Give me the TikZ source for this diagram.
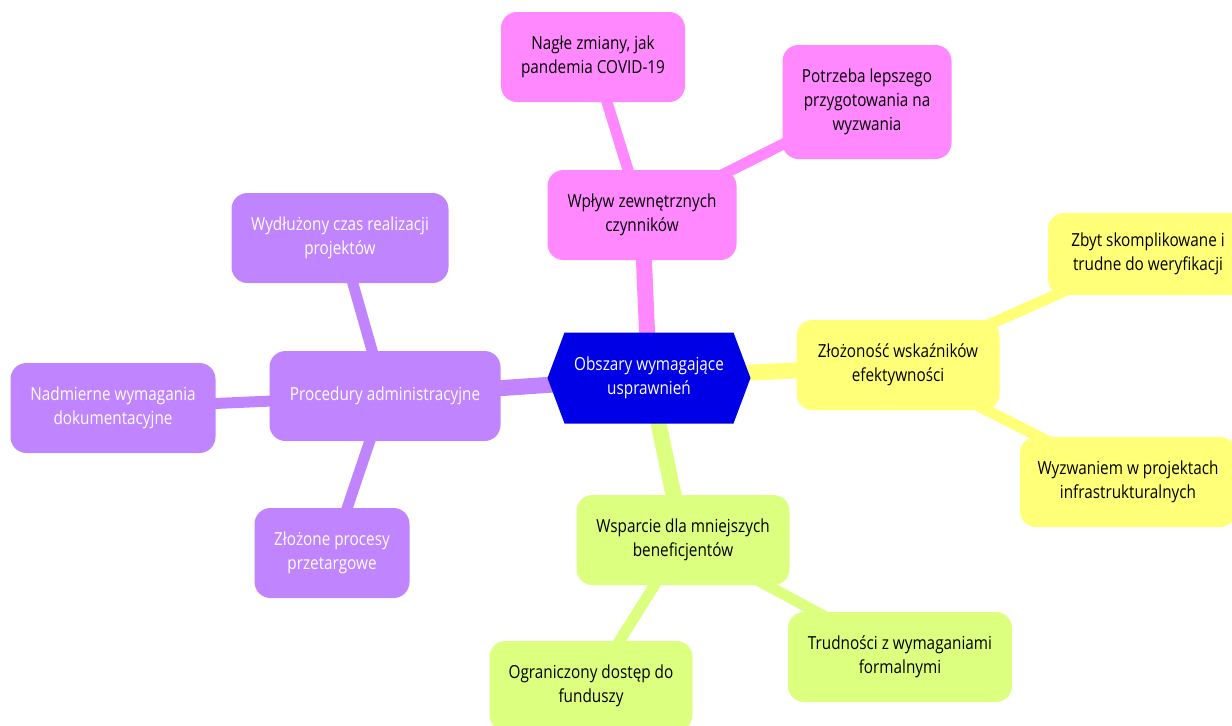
\documentclass[tikz,border=0pt]{standalone}
\usepackage{fontspec}
\setmainfont{Open Sans}[FakeStretch=0.85]
\usetikzlibrary{positioning,shapes.symbols,backgrounds}
\definecolor{rootblue}{HTML}{0000E6}
\definecolor{mmpurple}{HTML}{C184FF}
\definecolor{mmpink}{HTML}{FF88FF}
\definecolor{mmyellow}{HTML}{FFFF78}
\definecolor{mmgreen}{HTML}{DDFF80}

\begin{document}
\begin{tikzpicture}[
  x=0.5pt, y=-0.5pt,
  font=\fontsize{9}{12}\selectfont,
  rootnode/.style={signal, signal to=east and west, signal pointer angle=139,
    fill=rootblue, text=white, align=center, minimum width=101.5pt, minimum height=45.5pt, inner sep=0pt},
  topic/.style={rounded corners=8pt, align=center, inner sep=0pt, minimum height=45pt},
  branch/.style={line width=8pt},
  twig/.style={line width=5.5pt}
]
\useasboundingbox (0,0) rectangle (1232,725);

% centre
\node[rootnode] (root) at (649,378) {Obszary wymagające\\usprawnień};

% pink branch
\node[topic, fill=mmpink, minimum width=94.5pt] (zewn) at (642,215) {Wpływ zewnętrznych\\czynników};
\node[topic, fill=mmpink, minimum width=92pt] (covid) at (593,57) {Nagłe zmiany, jak\\pandemia COVID-19};
\node[topic, fill=mmpink, minimum width=84.5pt, minimum height=57pt] (przyg) at (867,102) {Potrzeba lepszego\\przygotowania na\\wyzwania};

% yellow branch
\node[topic, fill=mmyellow, minimum width=101.5pt] (wskaz) at (898,365) {Złożoność wskaźników\\efektywności};
\node[topic, fill=mmyellow, minimum width=100pt, minimum height=41pt] (weryf) at (1148,254) {Zbyt skomplikowane i\\trudne do weryfikacji};
\node[topic, fill=mmyellow, minimum width=108pt] (infra) at (1128,482) {Wyzwaniem w projektach\\infrastrukturalnych};

% green branch
\node[topic, fill=mmgreen, minimum width=106.5pt] (benef) at (683,540) {Wsparcie dla mniejszych\\beneficjentów};
\node[topic, fill=mmgreen, minimum width=112pt] (formal) at (900,657) {Trudności z wymaganiami\\formalnymi};
\node[topic, fill=mmgreen, minimum width=101.5pt] (fundusz) at (591,686) {Ograniczony dostęp do\\funduszy};

% purple branch
\node[topic, fill=mmpurple, text=white, minimum width=115.5pt] (admin) at (385,396) {Procedury administracyjne};
\node[topic, fill=mmpurple, text=white, minimum width=108.5pt] (czas) at (340,238) {Wydłużony czas realizacji\\projektów};
\node[topic, fill=mmpurple, text=white, minimum width=102.5pt] (dokum) at (113,408) {Nadmierne wymagania\\dokumentacyjne};
\node[topic, fill=mmpurple, text=white, minimum width=77.5pt] (przet) at (332,553) {Złożone procesy\\przetargowe};

\begin{pgfonlayer}{background}
  \draw[branch, mmpink] (root.center) -- (zewn.center);
  \draw[branch, mmyellow] (root.center) -- (wskaz.center);
  \draw[branch, mmgreen] (root.center) -- (benef.center);
  \draw[branch, mmpurple] (root.center) -- (admin.center);
  \draw[twig, mmpink] (zewn.center) -- (covid.center);
  \draw[twig, mmpink] (zewn.center) -- (przyg.center);
  \draw[twig, mmyellow] (wskaz.center) -- (weryf.center);
  \draw[twig, mmyellow] (wskaz.center) -- (infra.center);
  \draw[twig, mmgreen] (benef.center) -- (formal.center);
  \draw[twig, mmgreen] (benef.center) -- (fundusz.center);
  \draw[twig, mmpurple] (admin.center) -- (czas.center);
  \draw[twig, mmpurple] (admin.center) -- (dokum.center);
  \draw[twig, mmpurple] (admin.center) -- (przet.center);
\end{pgfonlayer}
\end{tikzpicture}
\end{document}
